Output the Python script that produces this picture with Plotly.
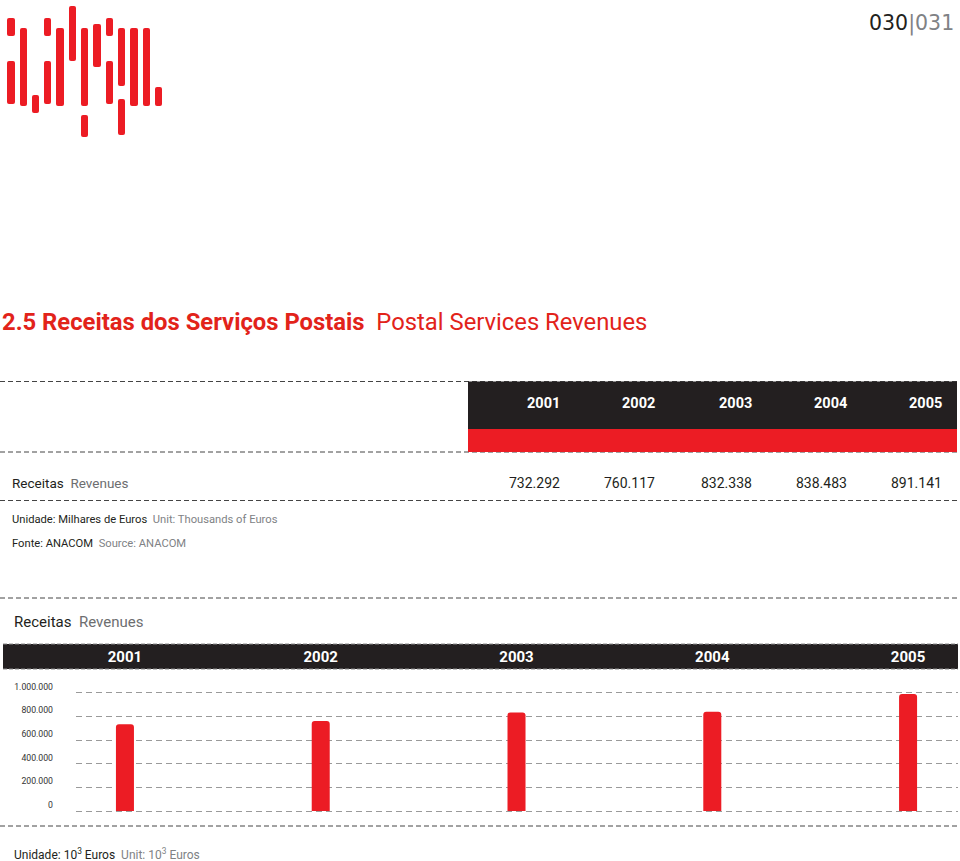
import plotly.graph_objects as go

# ---- data ----
years = ["2001", "2002", "2003", "2004", "2005"]
table_values = [732292, 760117, 832338, 838483, 891141]  # thousands of euros (table)
# bar heights as drawn in the source chart (the 2005 bar is drawn near 1.000.000)
bar_values = [732292, 760117, 832338, 838483, 990000]
y_tick_vals = [0, 200000, 400000, 600000, 800000, 1000000]
y_tick_text = ["0", "200.000", "400.000", "600.000", "800.000", "1.000.000"]

W, H = 960, 861
RED = "#ec1c24"
DARK = "#231f20"
GREY = "#6d6e70"
LGREY = "#808285"
FONT = "Roboto"


def px(x):
    return x / W


def py(y):
    return 1 - y / H


def fmt(v):
    return f"{v:,}".replace(",", ".")


fig = go.Figure()

fig.add_trace(go.Bar(
    x=years, y=bar_values, width=0.092,
    marker=dict(color=RED, line=dict(width=0)),
    hoverinfo="skip",
))

shapes = []
annotations = []

# ---- logo (decorative) ----
logo_bars = [
    (7, 15, 18, 36), (7, 15, 61, 104), (20, 27, 28, 106), (32, 39, 95, 113),
    (44, 51, 18, 36), (44, 51, 61, 104), (56, 64, 28, 106), (69, 76, 6, 61),
    (81, 88, 28, 106), (81, 88, 115, 137), (93, 101, 24, 67), (106, 113, 18, 36),
    (106, 113, 61, 104), (118, 125, 28, 86), (118, 125, 99, 135),
    (130, 138, 28, 106), (143, 150, 28, 106), (155, 162, 87, 106),
]


def rounded_rect(x0, x1, y0, y1, r=2):
    X0, X1, X0r, X1r = px(x0), px(x1), px(x0 + r), px(x1 - r)
    T, B, Tr, Br = py(y0), py(y1), py(y0 + r), py(y1 - r)
    return (f"M {X0r} {T} L {X1r} {T} Q {X1} {T} {X1} {Tr} L {X1} {Br} "
            f"Q {X1} {B} {X1r} {B} L {X0r} {B} Q {X0} {B} {X0} {Br} "
            f"L {X0} {Tr} Q {X0} {T} {X0r} {T} Z")


for x0, x1, y0, y1 in logo_bars:
    shapes.append(dict(type="path", xref="paper", yref="paper",
                       path=rounded_rect(x0, x1, y0, y1),
                       fillcolor=RED, line=dict(width=0), layer="above"))

# ---- dashed separator lines ----
for yy in [381.5, 452, 500.5, 598, 826]:
    shapes.append(dict(type="line", xref="paper", yref="paper",
                       x0=0, x1=1, y0=py(yy), y1=py(yy),
                       line=dict(color="#444", width=1, dash="5px,3px")))

# ---- top table header ----
shapes.append(dict(type="rect", xref="paper", yref="paper",
                   x0=px(468), x1=px(957), y0=py(429), y1=py(381.5),
                   fillcolor=DARK, line=dict(width=0)))
shapes.append(dict(type="rect", xref="paper", yref="paper",
                   x0=px(468), x1=px(957), y0=py(452), y1=py(429),
                   fillcolor=RED, line=dict(width=0)))

# ---- chart header band ----
shapes.append(dict(type="rect", xref="paper", yref="paper",
                   x0=px(3), x1=px(958), y0=py(669), y1=py(644),
                   fillcolor=DARK, line=dict(width=0), layer="below"))
for yy in [644, 669]:
    shapes.append(dict(type="line", xref="paper", yref="paper",
                       x0=px(3), x1=px(958), y0=py(yy), y1=py(yy),
                       line=dict(color="#8a8a8a", width=1, dash="4px,2px")))

right_edges = [562, 657, 754, 849, 944]
for i, (yr, v) in enumerate(zip(years, table_values)):
    annotations.append(dict(xref="paper", yref="paper", x=px(right_edges[i]), y=py(404),
                            xanchor="right", yanchor="middle", showarrow=False,
                            text=f"<b>{yr}</b>", font=dict(family=FONT, size=14.5, color="white")))
    annotations.append(dict(xref="paper", yref="paper", x=px(right_edges[i]), y=py(483),
                            xanchor="right", yanchor="middle", showarrow=False,
                            text=fmt(v), font=dict(family=FONT, size=14, color=DARK)))


def ann(x, y, text, size, color=DARK, xanchor="left", family=FONT):
    annotations.append(dict(xref="paper", yref="paper", x=px(x), y=py(y),
                            xanchor=xanchor, yanchor="middle", showarrow=False,
                            text=text, font=dict(family=family, size=size, color=color)))


# page number
ann(956, 23, f"030<span style='color:{LGREY}'>|031</span>", 20.5, DARK, xanchor="right",
    family="DejaVu Sans")
# title
ann(0, 322, "<b>2.5 Receitas dos Serviços Postais</b>  Postal Services Revenues", 23.8, "#e2231a")
# table row label
ann(10, 483, f"Receitas  <span style='color:{GREY}'>Revenues</span>", 13.5)
# notes
ann(10, 519, f"Unidade: Milhares de Euros  <span style='color:{LGREY}'>Unit: Thousands of Euros</span>", 11.2)
ann(10, 543, f"Fonte: ANACOM  <span style='color:{LGREY}'>Source: ANACOM</span>", 11.2)
# chart title
ann(12, 622, f"Receitas  <span style='color:{GREY}'>Revenues</span>", 15)
# bottom unit
ann(12, 854, f"Unidade: 10<sup>3</sup> Euros  <span style='color:{LGREY}'>Unit: 10<sup>3</sup> Euros</span>", 12)

fig.update_layout(
    width=W, height=H,
    margin=dict(l=0, r=0, t=0, b=0, autoexpand=False),
    paper_bgcolor="white", plot_bgcolor="white",
    showlegend=False,
    shapes=shapes, annotations=annotations,
    barcornerradius=3,
    xaxis=dict(
        domain=[px(76), px(958)],
        type="category", range=[-0.25, 4.255],
        side="top", showgrid=False, zeroline=False, showline=False,
        ticks="", ticklabelstandoff=23, automargin=False,
        tickfont=dict(family=FONT, size=15, color="white", weight="bold"),
        fixedrange=True,
    ),
    yaxis=dict(
        domain=[py(814.55), py(689.15)],
        range=[-30000, 1030000],
        tickvals=y_tick_vals, ticktext=y_tick_text,
        ticklabelposition="outside top",
        ticklabelstandoff=22, automargin=False,
        tickfont=dict(family=FONT, size=8.7, color="#333"),
        showgrid=True, gridcolor="#9a9a9a", gridwidth=1, griddash="6px,4px",
        zeroline=False, showline=False, ticks="",
        fixedrange=True,
    ),
)

fig.write_html(
    "out.html",
    config={"displayModeBar": False},
    post_script=(
        "document.documentElement.style.margin='0';"
        "document.body.style.margin='0';document.body.style.padding='0';"
        "document.body.style.overflow='hidden';"
        "document.documentElement.style.overflow='hidden';"
        "var d=document.getElementById('{plot_id}');"
        "d.style.position='fixed';d.style.top='0px';d.style.left='0px';"
    ),
)
